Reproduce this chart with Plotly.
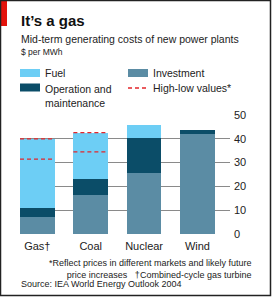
import plotly.graph_objects as go

categories = ["Gas†", "Coal", "Nuclear", "Wind"]
investment = [7.0, 16.5, 25.5, 42.1]
operation = [4.0, 6.6, 14.8, 1.6]
fuel = [29.0, 19.2, 5.5, 0.0]
high_values = [40.0, 42.6, None, None]
low_values = [31.5, 34.5, None, None]
y_ticks = [0, 10, 20, 30, 40, 50]

C_FUEL = "#6dcef5"
C_OM = "#0b4d68"
C_INV = "#5b8ca4"
C_RED = "#e3262b"
FONT = "Liberation Sans, Arial, sans-serif"

W, H = 272, 297
L, R, T, B = 20, 42, 115, 63
PW, PH = W - L - R, H - T - B


def px(x):
    return (x - L) / PW


def py(y):
    return (H - B - y) / PH


BW = 0.65
xs = list(range(len(categories)))

fig = go.Figure()
fig.add_trace(go.Bar(x=xs, y=investment, marker_color=C_INV, width=BW, marker_line_width=0))
fig.add_trace(go.Bar(x=xs, y=operation, marker_color=C_OM, width=BW, marker_line_width=0))
fig.add_trace(go.Bar(x=xs, y=fuel, marker_color=C_FUEL, width=BW, marker_line_width=0))

for i, (hi, lo) in enumerate(zip(high_values, low_values)):
    for v in (hi, lo):
        if v is None:
            continue
        fig.add_trace(go.Scatter(x=[i - BW / 2, i + BW / 2], y=[v, v], mode="lines",
                                 line=dict(color=C_RED, width=1.3, dash="4px,3px"),
                                 hoverinfo="skip"))

shapes = []
# red corner tab
shapes.append(dict(type="rect", xref="paper", yref="paper", x0=px(0), x1=px(7), y0=py(0), y1=py(26),
                   fillcolor="#e3120b", line_width=0, layer="above"))
# frame
shapes.append(dict(type="rect", xref="paper", yref="paper", x0=px(0.5), x1=px(270.5), y0=py(0.5), y1=py(295.5),
                   fillcolor="rgba(0,0,0,0)", line=dict(color="#222", width=1.5), layer="above"))
# legend swatches
shapes.append(dict(type="rect", xref="paper", yref="paper", x0=px(20), x1=px(40), y0=py(69), y1=py(77),
                   fillcolor=C_FUEL, line_width=0))
shapes.append(dict(type="rect", xref="paper", yref="paper", x0=px(20), x1=px(40), y0=py(83.5), y1=py(91.5),
                   fillcolor=C_OM, line_width=0))
shapes.append(dict(type="rect", xref="paper", yref="paper", x0=px(128), x1=px(148), y0=py(69), y1=py(77),
                   fillcolor=C_INV, line_width=0))
shapes.append(dict(type="line", xref="paper", yref="paper", x0=px(128), x1=px(148), y0=py(88), y1=py(88),
                   line=dict(color=C_RED, width=1.3, dash="4px,3px")))

ann = []


def text(x, y, s, size, anchor="left", yanchor="middle", bold=False, color="#222", align="left"):
    ann.append(dict(xref="paper", yref="paper", x=px(x), y=py(y), text=(f"<b>{s}</b>" if bold else s),
                    showarrow=False, xanchor=anchor, yanchor=yanchor, align=align,
                    font=dict(family=FONT, size=size, color=color)))


text(19, 21, "It’s a gas", 15, bold=True, color="#111")
text(19, 39, "Mid-term generating costs of new power plants", 10.5)
text(19, 52, "$ per MWh", 8.5)
text(43, 73, "Fuel", 10.5)
text(43, 81.5, "Operation and<br>maintenance", 10.5, yanchor="top")
text(151, 73, "Investment", 10.5)
text(151, 88, "High-low values*", 10.5)
text(253, 256, "*Reflect prices in different markets and likely future<br>price increases   †Combined-cycle gas turbine",
     9, anchor="right", yanchor="top", align="right")
text(19, 284, "Source: IEA World Energy Outlook 2004", 9)

fig.update_layout(
    width=W, height=H, barmode="stack", showlegend=False,
    margin=dict(l=L, r=R, t=T, b=B, pad=0),
    paper_bgcolor="white", plot_bgcolor="white",
    bargap=0,
    shapes=shapes, annotations=ann,
    xaxis=dict(range=[-BW / 2, 3.61], tickvals=xs, ticktext=categories, showgrid=False,
               zeroline=False, showline=False, ticks="", fixedrange=True, ticklabelstandoff=4,
               tickfont=dict(family=FONT, size=11, color="#222")),
    yaxis=dict(range=[0, 50], tickvals=y_ticks, side="right", showgrid=True, gridcolor="#8a8a8a",
               gridwidth=1, zeroline=False, showline=False, ticks="", ticklabelstandoff=3,
               tickfont=dict(family=FONT, size=11, color="#222")),
)

fig.write_html("out.html")
